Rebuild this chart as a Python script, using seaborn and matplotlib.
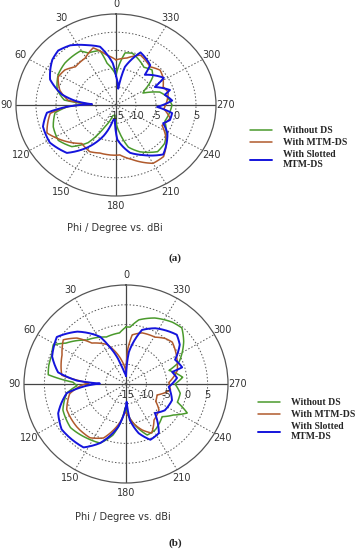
import numpy as np
import matplotlib
matplotlib.use("Agg")
import matplotlib.pyplot as plt
import seaborn as sns

# --- data (phi in degrees, gain in dBi) ---
# (a)
phi_a_green = [0, 11, 15, 26, 31, 48, 60, 74, 84, 88, 92, 98, 111, 124, 136, 146, 155, 165, 175,
               187, 195, 205, 219, 229, 240, 250, 260, 270, 280, 288, 296, 300, 310, 317, 326, 344, 351, 360]
gain_a_green = [-6.8, -3.3, 0.5, 0.9, 2.3, 2.2, 1.7, 0.3, -2, -8, -3, 0.4, 1.8, 2.4, 0.9, -2.5, -8.4, -12, -12.2,
                -7.2, -3, -0.8, 1.5, 1.1, -0.5, -2, -1.5, -1, -2, -3.5, -7.5, -6.7, -3, -1.8, -2.5, -0.2, -0.5, -6.8]

phi_a_brown = [0, 10, 20, 31, 44, 53, 62, 74, 84, 88, 92, 98, 114, 120, 141, 153, 163, 178, 184, 195,
               210, 220, 232, 244, 255, 265, 275, 285, 293, 303, 311, 321, 336, 348, 360]
gain_a_brown = [-2.6, -1, 1.7, 0, -0.4, 1, 1.4, -0.4, -3, -9, -3, 1.6, 3.9, 2.7, -1.4, -0.6, -1.2, -1.2, -1.25, 0.5,
                3.5, 3.5, 1, -2.2, -1, -3, -2.2, -1.5, -2.2, -1, -0.4, -1.5, 0, -1.8, -2.6]

phi_a_blue = [0, 4, 14, 24, 35, 44, 52, 60, 67, 78, 84, 88, 92, 97, 108, 122, 137, 149, 160, 170, 176, 182,
              195, 206, 221, 239, 247, 253, 261, 267, 275, 283, 287, 297, 302, 319, 322, 337, 348, 353, 360]
gain_a_blue = [-7, -3.5, 1.5, 3, 5, 5.8, 5.2, 4, 2.9, -1.2, -5, -9, -3, 2.4, 4.2, 4.5, 3, -1.5, -6, -10.8, -11, -5.5,
               -1.4, 0.3, 3, 0, -2.2, -0.9, -0.8, -4.7, -0.9, -2.5, -0.9, -4.1, -0.9, -4, -1.1, 0.7, -4.3, -10.5, -7]

# (b)
phi_b_green = [0, 7, 22, 41, 55, 61, 68, 76, 83, 88, 92, 99, 113, 129, 145, 157, 166, 172, 178, 184, 192,
               202, 212, 227, 236, 244, 250, 260, 270, 277, 288, 293, 307, 316, 324, 337, 349, 356, 360]
gain_b_green = [-0.6, -2, -2.2, -0.3, 3, 5.4, 4.6, 4.5, 4.2, -2, -3, -0.3, 1.8, 2.5, 1.7, 1.2, -1.7, -5, -9, -7, -4.4,
                -1.1, -1.4, -2.9, -1, 1.7, -1.6, -1.5, -3, -1, -3.9, -0.9, 2.7, 4.7, 4.3, 3.1, 1.5, -0.6, -0.6]

phi_b_brown = [0, 10, 25, 39, 46, 54, 65, 82, 88, 92, 100, 114, 132, 147, 158, 171, 178, 184, 190, 199,
               207, 217, 231, 239, 250, 262, 272, 285, 298, 313, 320, 329, 343, 353, 357, 360]
gain_b_brown = [-12, -9, -4, -1.7, 1.7, 4, 2.3, 0.9, -6, -4, -1, 0.9, 1.2, 1.2, -0.3, -5.1, -8, -7, -5, -2.7,
                -1.1, -3.6, -4.6, -6.5, -6.9, -4, -4.5, -2, -0.9, 0.5, 0, -1.2, -1.5, -2.5, -6, -12]

phi_b_blue = [0, 8, 13, 23, 28, 42, 55, 69, 80, 86, 89, 93, 99, 114, 126, 147, 157, 170, 178, 182, 186, 194,
              203, 213, 224, 235, 250, 266, 277, 285, 287, 297, 307, 315, 333, 344, 355, 360]
gain_b_blue = [-13, -12, -10.6, -4.9, -1.5, 2.8, 5.7, 4.4, 1.9, -3, -8.6, -5, -0.3, 3.2, 4.5, 4.1, 1.2, -4, -8.4, -10.5, -5.8, -2.2,
               0.3, -0.2, -4.8, -3.4, -3, -4.5, -2.4, -3.3, -0.6, -1.5, 1.5, 2.6, 0.8, -0.8, -6.9, -13]

series_names = ["Without DS", "With MTM-DS", "With Slotted\nMTM-DS"]
r_ticks = [-15, -10, -5, 0, 5]
theta_ticks = list(range(0, 360, 30))

sns.set_style("white")
plt.rcParams['font.family'] = ['DejaVu Sans']

fig = plt.figure(figsize=(3.55, 5.5), dpi=100)
W, H = 355, 550

colors = ["#4a9a2c", "#b05a2c", "#1414dc"]
widths = [1.1, 1.1, 1.4]


def panel(rect, data):
    ax = fig.add_axes(rect, projection="polar")
    ax.set_theta_zero_location("N")
    ax.set_theta_direction(1)
    ax.set_aspect("auto")
    for (phi, gain), c, lw, name in zip(data, colors, widths, series_names):
        sns.lineplot(x=np.deg2rad(phi), y=gain, ax=ax, color=c, lw=lw,
                     sort=False, legend=False, label=name)
    # draw segments as arcs in polar space rather than straight chords
    for ln in ax.lines:
        ln.get_path()._interpolation_steps = 12
        ln.set_solid_joinstyle("round")
    ax.set_ylim(-15, 10)
    ax.set_yticks(r_ticks)
    ax.set_yticklabels([])
    ax.set_thetagrids(theta_ticks, labels=[str(t) for t in theta_ticks],
                      fontsize=7, color="#333333")
    ax.tick_params(axis="x", pad=-3.5)
    ax.set_xlabel("")
    ax.set_ylabel("")
    ax.grid(True, color="#555555", lw=0.7, ls=(0, (1.5, 2)))
    for i, gl in enumerate(ax.xaxis.get_gridlines()):
        if i % 3 == 0:
            gl.set_linestyle("-")
            gl.set_color("#444444")
            gl.set_linewidth(0.9)
    ax.spines["polar"].set_color("#555555")
    ax.spines["polar"].set_linewidth(0.9)
    for r in r_ticks:
        ax.annotate(str(r), xy=(np.pi * 1.5, r), xytext=(0, -11),
                    textcoords="offset pixels", ha="center", va="center",
                    fontsize=7, color="#333333")
    return ax


ax_a = panel([16 / W, 1 - 196 / H, 200 / W, 182 / H],
             [(phi_a_green, gain_a_green), (phi_a_brown, gain_a_brown), (phi_a_blue, gain_a_blue)])
ax_b = panel([24 / W, 1 - 483 / H, 204 / W, 198 / H],
             [(phi_b_green, gain_b_green), (phi_b_brown, gain_b_brown), (phi_b_blue, gain_b_blue)])

fig.text(115 / W, 1 - 228 / H, "Phi / Degree vs. dBi", ha="center", va="center",
         fontsize=7, color="#333333")
fig.text(123 / W, 1 - 517 / H, "Phi / Degree vs. dBi", ha="center", va="center",
         fontsize=7, color="#333333")
fig.text(175 / W, 1 - 258 / H, "(a)", ha="center", va="center", fontsize=8,
         family="Liberation Serif", weight="bold")
fig.text(175 / W, 1 - 543 / H, "(b)", ha="center", va="center", fontsize=8,
         family="Liberation Serif", weight="bold")

leg_font = {"family": "Liberation Serif", "weight": "bold", "size": 7}
for ax, anchor in [(ax_a, (250 / W, 1 - 126 / H)), (ax_b, (258 / W, 1 - 398 / H))]:
    fig.legend(handles=ax.lines[:3], loc="upper left", bbox_to_anchor=anchor,
               frameon=False, prop=leg_font, handlelength=2.3, handletextpad=1.1,
               labelspacing=0.3, borderpad=0, borderaxespad=0)

fig.savefig("out.png", dpi=100)
